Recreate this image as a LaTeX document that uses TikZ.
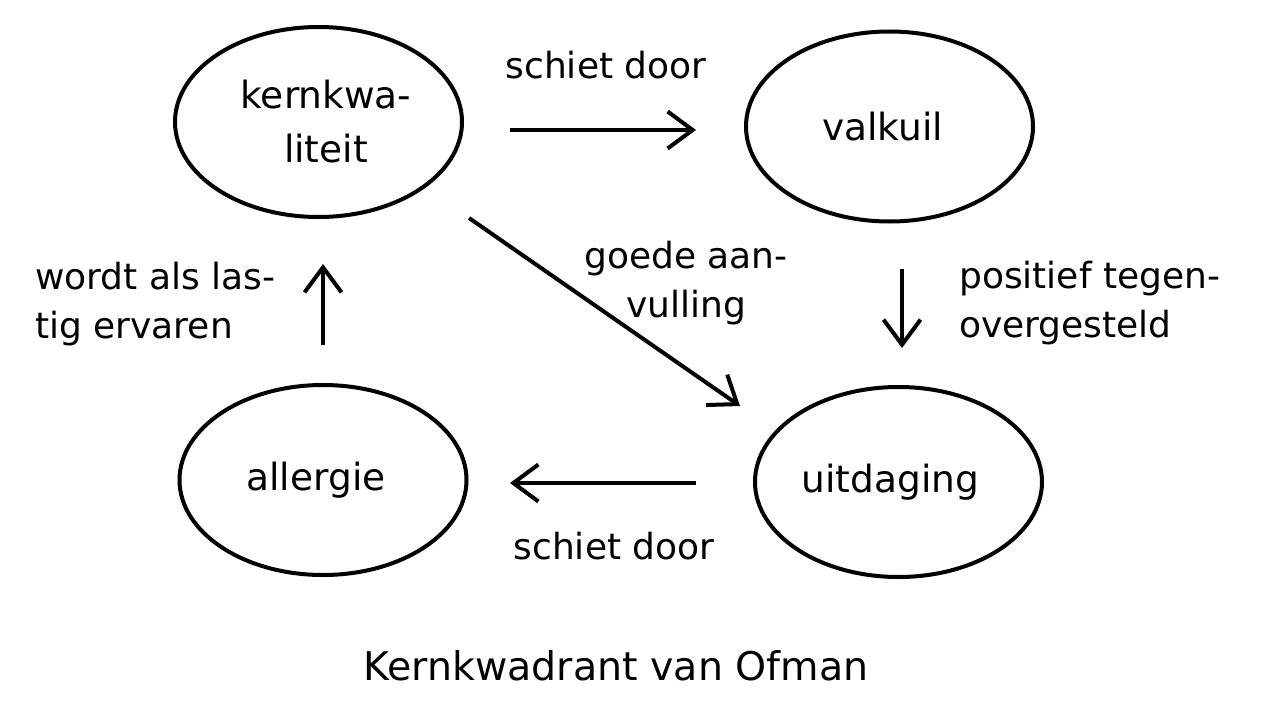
\documentclass[tikz,border=0pt]{standalone}
\usepackage{fontspec}
\setmainfont{DejaVu Sans}
\usetikzlibrary{shapes.geometric,arrows.meta,calc}
\newcommand{\tshift}[1]{\hspace*{#1}}
\begin{document}
\begin{tikzpicture}[x=1pt,y=-1pt,
  ell/.style={draw, ellipse, line width=4pt, minimum width=287pt, minimum height=190pt,
    inner sep=0pt, align=center, font=\fontsize{37.5}{54}\selectfont},
  arr/.style={line width=4pt, -{Straight Barb[length=25pt,width=37pt]}},
  lbl/.style={inner sep=0pt, font=\fontsize{36}{49}\selectfont},
  ttl/.style={inner sep=0pt, font=\fontsize{39.5}{46}\selectfont}]
\useasboundingbox (0,0) rectangle (1275,725);
\fill[white] (0,0) rectangle (1275,725);

\node[ell] (kern) at (318.5,122) {\tshift{15pt}kernkwa-\\\tshift{15pt}liteit};
\node[ell] (valk) at (889.5,126.5) {valkuil\tshift{14pt}};
\node[ell] (aller) at (323,480) {allergie\tshift{14pt}};
\node[ell] (uitd) at (898.5,482) {uitdaging\tshift{16pt}};

\draw[arr] ($(kern.east)+(46,8)$) -- ($(valk.west)+(-48,3.5)$);
\draw[arr] ($(valk.south)+(12.5,45.5)$) -- ($(uitd.north)+(3.5,-37)$);
\draw[arr] ($(uitd.west)+(-57,1)$) -- ($(aller.east)+(41.5,3)$);
\draw[arr] ($(aller.north)+(0,-38)$) -- ($(kern.south)+(4.5,45)$);
\draw[arr] ($(kern.center)+(150.5,96)$) -- ($(uitd.center)+(-158.5,-76)$);

\node[lbl, anchor=base] (l1) at (606,78) {schiet door};
\node[lbl, anchor=base, align=center] (l2) at (686,317) {goede aan-\\vulling};
\node[lbl, anchor=base west, align=left] (l3) at (959,337) {positief tegen-\\overgesteld};
\node[lbl, anchor=base west, align=left] (l4) at (35,338) {wordt als las-\\tig ervaren};
\node[lbl, anchor=base] (l5) at (614,559) {schiet door};
\node[ttl, anchor=base] (title) at (616,680) {Kernkwadrant van Ofman};
\end{tikzpicture}
\end{document}
